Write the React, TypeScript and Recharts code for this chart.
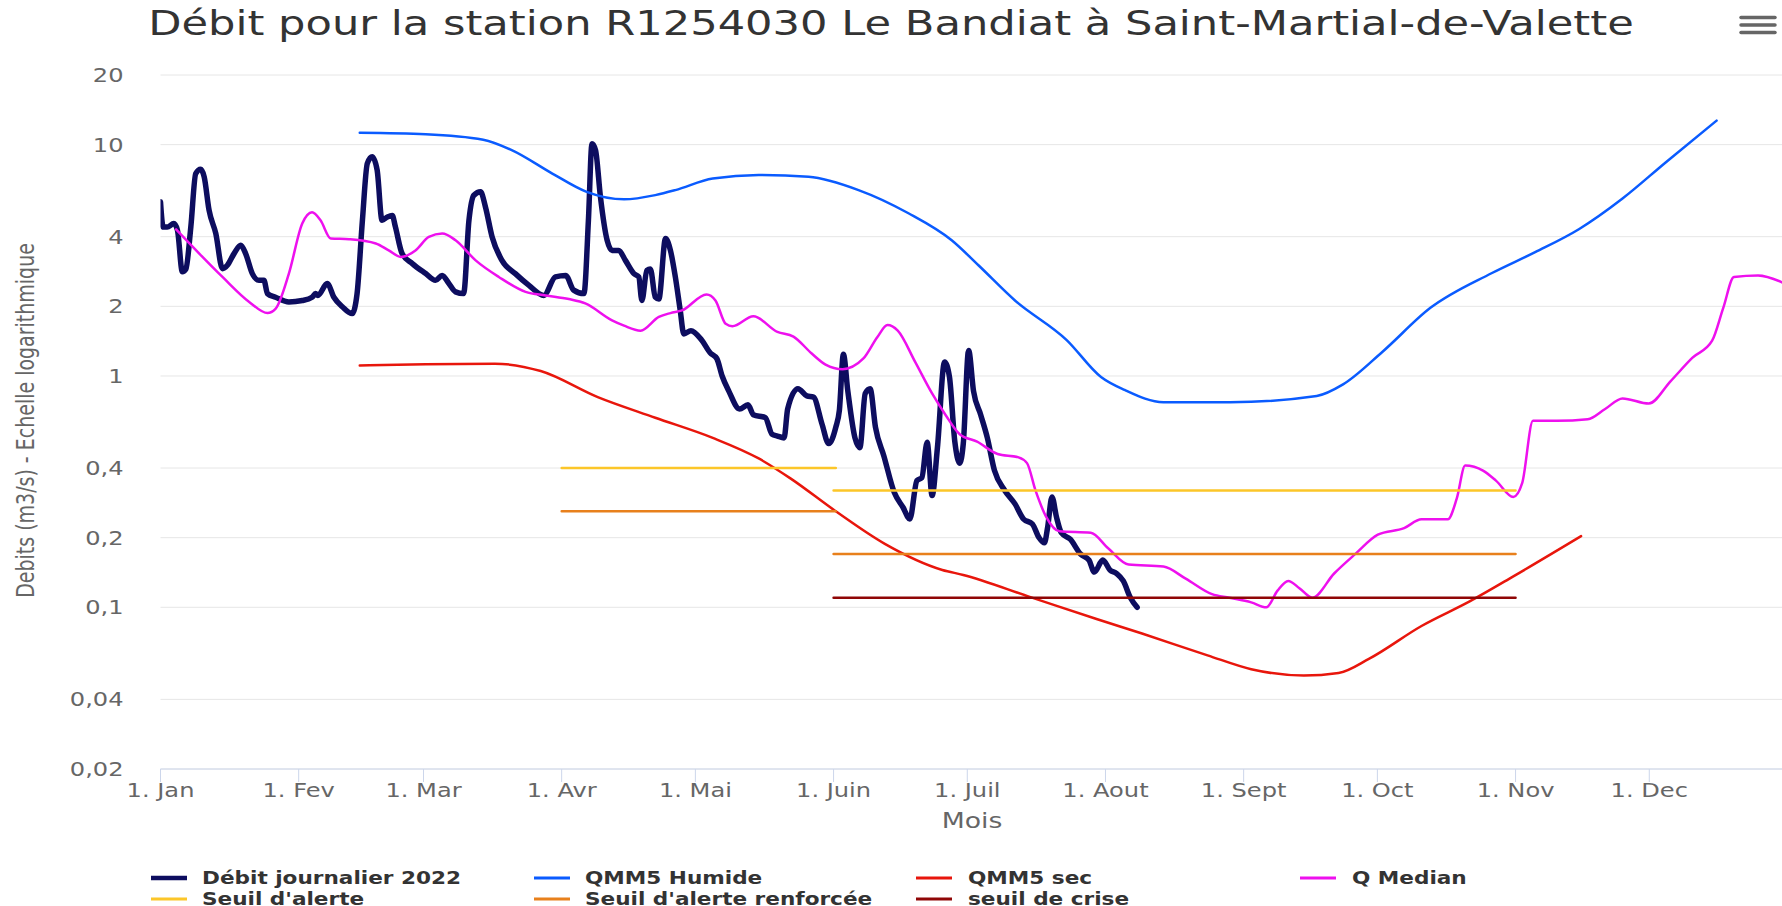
import React from 'react';
import { LineChart, Line, XAxis, YAxis, CartesianGrid } from 'recharts';

const SX = 1.27;
const FONT = '"DejaVu Sans", Verdana, sans-serif';

const monthStarts = [0, 31, 59, 90, 120, 151, 181, 212, 243, 273, 304, 334];
const monthLabels = ['1. Jan', '1. Fev', '1. Mar', '1. Avr', '1. Mai', '1. Juin', '1. Juil', '1. Aout', '1. Sept', '1. Oct', '1. Nov', '1. Dec'];
const yTicks = [0.02, 0.04, 0.1, 0.2, 0.4, 1, 2, 4, 10, 20];
const yTickLabels = ['0,02', '0,04', '0,1', '0,2', '0,4', '1', '2', '4', '10', '20'];

const debit2022: [number, number][] = [
  [0, 5.66], [0.6, 4.4], [1.5, 4.4], [3, 4.56], [3.8, 4.27], [4.9, 2.82], [5.7, 2.9], [6.8, 4.4], [7.9, 7.5], [9, 7.82], [9.8, 7.26], [10.9, 5.2], [12.4, 4.13], [13.9, 2.91], [15, 3.01], [16.5, 3.38], [18, 3.67], [19.1, 3.38], [20.6, 2.77], [22.1, 2.59], [23.2, 2.59], [24, 2.27], [25.8, 2.19], [28.8, 2.09], [31.8, 2.12], [34, 2.19], [34.8, 2.27], [35.3, 2.23], [37.4, 2.51], [38.9, 2.19], [40.8, 1.99], [43, 1.86], [44.1, 2.27], [45.3, 4.71], [46.4, 8.3], [47.5, 8.86], [48.6, 7.76], [49.7, 4.71], [50.9, 4.87], [52, 4.94], [52.7, 4.41], [54.2, 3.38], [56.5, 3.06], [59.5, 2.77], [61.7, 2.59], [63.2, 2.72], [64.7, 2.51], [66.2, 2.31], [68, 2.27], [69.2, 4.71], [70.3, 6.04], [71.8, 6.25], [72.9, 5.38], [74.4, 3.99], [76.6, 3.16], [79.6, 2.77], [82.6, 2.47], [86, 2.23], [88.6, 2.68], [90.9, 2.72], [92.7, 2.35], [95, 2.27], [96, 4.71], [96.8, 10.1], [97.6, 9.47], [98.7, 5.94], [100.2, 3.86], [101.3, 3.49], [102.8, 3.49], [104.3, 3.16], [106.2, 2.77], [107.3, 2.68], [108, 2.12], [109.1, 2.86], [109.9, 2.9], [111, 2.19], [111.8, 2.15], [113.3, 3.93], [114.4, 3.49], [115.5, 2.68], [116.6, 1.92], [117.4, 1.52], [119, 1.57], [121.4, 1.43], [123.3, 1.26], [124.8, 1.19], [126, 1.0], [127.5, 0.86], [129.9, 0.72], [131.8, 0.75], [133, 0.68], [135.7, 0.66], [137.2, 0.56], [138.4, 0.55], [139.9, 0.54], [140.7, 0.72], [143, 0.88], [145, 0.82], [146.5, 0.81], [148.4, 0.62], [149.9, 0.51], [151.5, 0.6], [152.3, 0.71], [153.2, 1.24], [154.2, 0.86], [155.8, 0.54], [156.9, 0.49], [158.1, 0.84], [159.2, 0.88], [160.4, 0.6], [162.3, 0.45], [164.6, 0.314], [166.6, 0.27], [168.1, 0.241], [169.7, 0.353], [170.8, 0.363], [172, 0.517], [173.1, 0.304], [174.3, 0.49], [175.9, 1.15], [177, 0.99], [178.2, 0.52], [179.3, 0.42], [180.1, 0.51], [181.3, 1.29], [182.4, 0.86], [184, 0.68], [185.5, 0.54], [187.1, 0.39], [189.4, 0.32], [191.7, 0.28], [193.6, 0.241], [195.6, 0.229], [197.1, 0.2], [198.3, 0.19], [199, 0.22], [200, 0.3], [201, 0.246], [202.1, 0.21], [204.1, 0.197], [206.4, 0.17], [208.3, 0.16], [209.5, 0.142], [211.4, 0.16], [213, 0.145], [214.5, 0.14], [216, 0.13], [217.6, 0.11], [219.1, 0.1],
];

const qmm5Humide: [number, number][] = [
  [44.7, 11.25], [59.5, 11.1], [72.4, 10.5], [78.8, 9.47], [87.9, 7.5], [95.6, 6.25], [104, 5.8], [111, 6.05], [115.5, 6.36], [123.9, 7.14], [134.2, 7.4], [145.4, 7.26], [156.6, 6.36], [167.8, 5.05], [177.5, 3.86], [183.5, 3.01], [191.7, 2.12], [203.3, 1.43], [211, 0.99], [216.3, 0.87], [225, 0.77], [240, 0.77], [259.4, 0.82], [265.3, 0.92], [274.1, 1.27], [284.9, 1.97], [298.6, 2.78], [308.4, 3.43], [318.2, 4.31], [328, 5.85], [337.8, 8.42], [349.1, 12.7],
];

const qmm5Sec: [number, number][] = [
  [44.7, 1.11], [59.5, 1.125], [75, 1.13], [85.3, 1.05], [98.1, 0.81], [111, 0.66], [123.9, 0.54], [134.2, 0.44], [141.4, 0.36], [151.5, 0.26], [162.5, 0.188], [175.4, 0.145], [180.1, 0.138], [195, 0.111], [210, 0.089], [220.2, 0.077], [234.9, 0.062], [244.7, 0.054], [256.5, 0.0507], [264.3, 0.052], [271.2, 0.06], [282.9, 0.083], [293.7, 0.106], [303.5, 0.136], [318.7, 0.203],
];

const qMedian: [number, number][] = [
  [3.5, 4.3], [8.7, 3.38], [13.9, 2.68], [19.9, 2.09], [24, 1.87], [25.8, 1.95], [28.8, 2.77], [31.8, 4.56], [34, 5.1], [35.9, 4.71], [38.2, 3.93], [42.3, 3.9], [48.3, 3.74], [51.2, 3.49], [53.9, 3.27], [57.2, 3.49], [60.2, 3.99], [63.2, 4.13], [66.2, 3.86], [70.7, 3.16], [75.9, 2.68], [81.9, 2.31], [86.4, 2.23], [91.6, 2.15], [95.3, 2.06], [101.3, 1.74], [104, 1.65], [107.7, 1.57], [111.8, 1.8], [114.4, 1.87], [117, 1.92], [122.5, 2.25], [124.5, 2.12], [126.8, 1.68], [128.3, 1.64], [133, 1.81], [138.4, 1.55], [142, 1.48], [146.1, 1.25], [149.2, 1.12], [153, 1.07], [157.7, 1.19], [160.8, 1.47], [163.1, 1.66], [165.4, 1.57], [169.3, 1.15], [173.1, 0.84], [176.2, 0.675], [179.3, 0.56], [183.2, 0.52], [187.8, 0.46], [192.5, 0.445], [194.4, 0.42], [196.3, 0.32], [198.7, 0.246], [201.7, 0.213], [208.7, 0.21], [212.6, 0.18], [217.2, 0.153], [225, 0.15], [230, 0.133], [235.9, 0.114], [239.8, 0.11], [244.7, 0.105], [248.1, 0.1], [250.6, 0.118], [253, 0.13], [255.5, 0.121], [258.4, 0.11], [263.3, 0.14], [268.2, 0.171], [273.1, 0.206], [279, 0.22], [282.9, 0.24], [288.8, 0.24], [290.8, 0.295], [292.7, 0.41], [296.7, 0.39], [299.6, 0.353], [303.5, 0.3], [305.5, 0.345], [307.9, 0.64], [313.3, 0.64], [320.2, 0.65], [324.1, 0.72], [328, 0.8], [333.9, 0.76], [338.8, 0.95], [343.7, 1.2], [348.1, 1.42], [350.6, 1.97], [353, 2.68], [358.4, 2.72], [364, 2.53],
];

const seuilAlerte: [number, number | null][] = [[90, 0.4], [151.5, 0.4], [151.5, null], [151, 0.32], [304, 0.32]];
const seuilRenforce: [number, number | null][] = [[90, 0.26], [151.5, 0.26], [151.5, null], [151, 0.17], [304, 0.17]];
const seuilCrise: [number, number | null][] = [[151, 0.11], [304, 0.11]];

const toData = (pts: [number, number | null][]) => pts.map(([d, v]) => ({ d, v }));

const series = [
  { name: 'Débit journalier 2022', data: debit2022, color: '#0d0d5f', width: 5.5, curve: 'monotone', legendW: 4.5 },
  { name: 'QMM5 Humide', data: qmm5Humide, color: '#0a5bff', width: 2.5, curve: 'monotone', legendW: 3 },
  { name: 'QMM5 sec', data: qmm5Sec, color: '#e8160c', width: 2.5, curve: 'monotone', legendW: 3 },
  { name: 'Q Median', data: qMedian, color: '#ee10ee', width: 2.5, curve: 'monotone', legendW: 3 },
  { name: "Seuil d'alerte", data: seuilAlerte, color: '#fcc629', width: 2.5, curve: 'linear', legendW: 3 },
  { name: "Seuil d'alerte renforcée", data: seuilRenforce, color: '#e8801c', width: 2.5, curve: 'linear', legendW: 3 },
  { name: 'seuil de crise', data: seuilCrise, color: '#8f0606', width: 2.5, curve: 'linear', legendW: 3 },
];

const legendPos = [
  { sx: 151, tx: 202, y: 878 },
  { sx: 534, tx: 585, y: 878 },
  { sx: 916, tx: 968, y: 878 },
  { sx: 1300, tx: 1352, y: 878 },
  { sx: 151, tx: 202, y: 899 },
  { sx: 534, tx: 585, y: 899 },
  { sx: 916, tx: 968, y: 899 },
];

const XTick = (props: any) => {
  const { x, y, payload } = props;
  const i = monthStarts.indexOf(payload.value);
  return (
    <text transform={`translate(${x},${y + 13}) scale(${SX},1)`} textAnchor="middle" fill="#666" fontSize={19} fontFamily={FONT}>
      {monthLabels[i]}
    </text>
  );
};

const YTick = (props: any) => {
  const { x, y, payload } = props;
  let i = yTicks.findIndex((t) => Math.abs(t - Number(payload.value)) < 1e-9);
  const label = i >= 0 ? yTickLabels[i] : String(payload.value).replace('.', ',');
  return (
    <text transform={`translate(${x},${y + 7}) scale(${SX},1)`} textAnchor="end" fill="#666" fontSize={19} fontFamily={FONT}>
      {label}
    </text>
  );
};

export default function App() {
  return (
    <div style={{ position: 'fixed', left: 0, top: 0, width: 1782, height: 906, overflow: 'hidden', background: '#fff' }}>
      <LineChart width={1800} height={906} margin={{ top: 75, right: 17, bottom: 107, left: 60.5 }}>
        <CartesianGrid horizontal={true} vertical={false} stroke="#e6e6e6" strokeWidth={1} />
        <XAxis
          dataKey="d"
          type="number"
          domain={[0, 364]}
          ticks={monthStarts}
          allowDataOverflow
          interval={0}
          height={30}
          axisLine={{ stroke: '#ccd6eb' }}
          tickLine={{ stroke: '#ccd6eb' }}
          tickSize={13}
          tickMargin={2}
          tick={XTick}
        />
        <YAxis
          type="number"
          scale="log"
          domain={[0.02, 20]}
          ticks={yTicks}
          allowDataOverflow
          interval={0}
          width={100}
          axisLine={false}
          tickLine={false}
          tickSize={0}
          tickMargin={37}
          tick={YTick}
        />
        {series.map((s) => (
          <Line
            key={s.name}
            name={s.name}
            data={toData(s.data)}
            dataKey="v"
            type={s.curve as any}
            stroke={s.color}
            strokeWidth={s.width}
            strokeLinejoin="round"
            strokeLinecap="round"
            dot={false}
            activeDot={false}
            connectNulls={false}
            isAnimationActive={false}
          />
        ))}
      </LineChart>
      <svg width={1782} height={906} style={{ position: 'absolute', left: 0, top: 0, pointerEvents: 'none' }}>
        <text transform={`translate(891,35) scale(${SX},1)`} textAnchor="middle" fill="#333" fontSize={34} fontFamily={FONT}>
          Débit pour la station R1254030 Le Bandiat à Saint-Martial-de-Valette
        </text>
        <g stroke="#666" strokeWidth={3.5} strokeLinecap="round">
          <line x1={1741} x2={1775} y1={17.5} y2={17.5} />
          <line x1={1741} x2={1775} y1={25} y2={25} />
          <line x1={1741} x2={1775} y1={32.5} y2={32.5} />
        </g>
        <text transform={`translate(34,420.5) rotate(-90) scale(1,${SX})`} textAnchor="middle" fill="#666" fontSize={19} fontFamily={FONT}>
          Debits (m3/s) - Echelle logarithmique
        </text>
        <text transform={`translate(972,828) scale(${SX},1)`} textAnchor="middle" fill="#666" fontSize={21} fontFamily={FONT}>
          Mois
        </text>
        {series.map((s, i) => {
          const p = legendPos[i];
          return (
            <g key={s.name}>
              <line x1={p.sx} x2={p.sx + 36} y1={p.y} y2={p.y} stroke={s.color} strokeWidth={s.legendW} />
              <text transform={`translate(${p.tx},${p.y + 6}) scale(${SX},1)`} fill="#333" fontSize={17} fontWeight="bold" fontFamily={FONT}>
                {s.name}
              </text>
            </g>
          );
        })}
      </svg>
    </div>
  );
}
